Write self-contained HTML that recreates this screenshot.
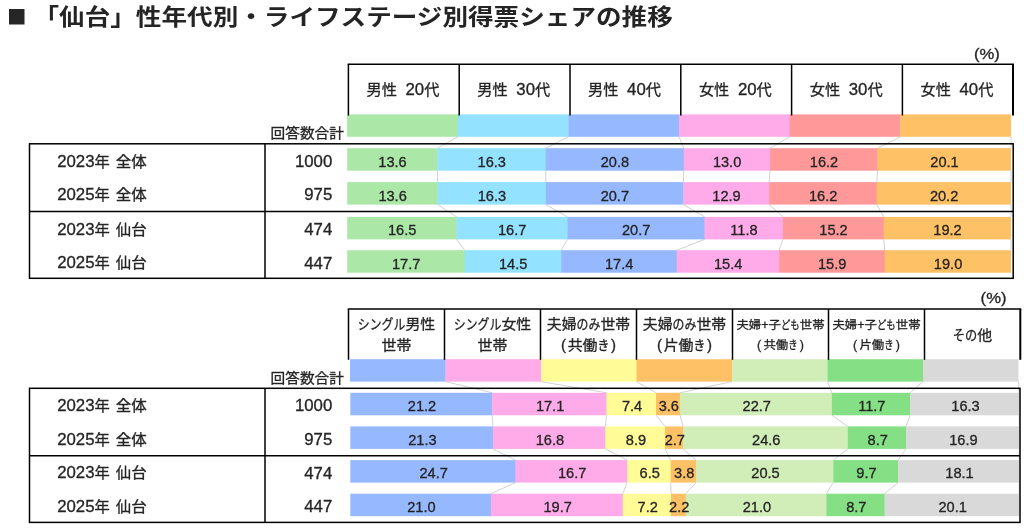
<!DOCTYPE html>
<html lang="ja"><head><meta charset="utf-8"><title>「仙台」性年代別・ライフステージ別得票シェアの推移</title>
<style>
html,body{margin:0;padding:0;background:#fff;}
body{width:1024px;height:529px;overflow:hidden;font-family:'Liberation Sans', 'Noto Sans CJK JP', sans-serif;}
svg{display:block;}
svg text{font-family:'Liberation Sans', 'Noto Sans CJK JP', sans-serif;}
</style></head><body>
<svg width="1024" height="529" viewBox="0 0 1024 529">
<rect x="9.00" y="9.00" width="15.50" height="15.50" fill="#262626"/>
<text transform="translate(33.50,24.90) scale(1.0,0.87)" font-size="25.6" font-weight="bold" fill="#242424" xml:space="preserve">「仙台」性年代別・ライフステージ別得票シェアの推移</text>
<rect x="347.10" y="114.40" width="110.95" height="22.40" fill="#abe8a8"/>
<rect x="457.75" y="114.40" width="110.95" height="22.40" fill="#93e2ff"/>
<rect x="568.40" y="114.40" width="110.95" height="22.40" fill="#96b8ff"/>
<rect x="679.05" y="114.40" width="110.95" height="22.40" fill="#ffabe9"/>
<rect x="789.70" y="114.40" width="110.95" height="22.40" fill="#ff9999"/>
<rect x="900.35" y="114.40" width="110.65" height="22.40" fill="#ffc166"/>
<line x1="457.75" y1="136.80" x2="437.48" y2="148.20" stroke="#c6c6c6" stroke-width="0.8"/>
<line x1="568.40" y1="136.80" x2="545.68" y2="148.20" stroke="#c6c6c6" stroke-width="0.8"/>
<line x1="679.05" y1="136.80" x2="683.75" y2="148.20" stroke="#c6c6c6" stroke-width="0.8"/>
<line x1="789.70" y1="136.80" x2="770.04" y2="148.20" stroke="#c6c6c6" stroke-width="0.8"/>
<line x1="900.35" y1="136.80" x2="877.58" y2="148.20" stroke="#c6c6c6" stroke-width="0.8"/>
<line x1="1011.00" y1="136.80" x2="1011.00" y2="148.20" stroke="#c6c6c6" stroke-width="0.8"/>
<rect x="347.20" y="148.20" width="90.58" height="22.50" fill="#abe8a8"/>
<rect x="437.48" y="148.20" width="108.50" height="22.50" fill="#93e2ff"/>
<rect x="545.68" y="148.20" width="138.37" height="22.50" fill="#96b8ff"/>
<rect x="683.75" y="148.20" width="86.59" height="22.50" fill="#ffabe9"/>
<rect x="770.04" y="148.20" width="107.84" height="22.50" fill="#ff9999"/>
<rect x="877.58" y="148.20" width="133.42" height="22.50" fill="#ffc166"/>
<text transform="translate(378.33,166.50) scale(1.0,1)" font-size="14.6" font-weight="normal" fill="#242424" stroke="#242424" stroke-width="0.3" xml:space="preserve">13.6</text>
<text transform="translate(477.57,166.50) scale(1.0,1)" font-size="14.6" font-weight="normal" fill="#242424" stroke="#242424" stroke-width="0.3" xml:space="preserve">16.3</text>
<text transform="translate(600.70,166.50) scale(1.0,1)" font-size="14.6" font-weight="normal" fill="#242424" stroke="#242424" stroke-width="0.3" xml:space="preserve">20.8</text>
<text transform="translate(712.89,166.50) scale(1.0,1)" font-size="14.6" font-weight="normal" fill="#242424" stroke="#242424" stroke-width="0.3" xml:space="preserve">13.0</text>
<text transform="translate(809.80,166.50) scale(1.0,1)" font-size="14.6" font-weight="normal" fill="#242424" stroke="#242424" stroke-width="0.3" xml:space="preserve">16.2</text>
<text transform="translate(930.28,166.50) scale(1.0,1)" font-size="14.6" font-weight="normal" fill="#242424" stroke="#242424" stroke-width="0.3" xml:space="preserve">20.1</text>
<line x1="437.48" y1="170.70" x2="437.57" y2="182.10" stroke="#c6c6c6" stroke-width="0.8"/>
<line x1="545.68" y1="170.70" x2="545.87" y2="182.10" stroke="#c6c6c6" stroke-width="0.8"/>
<line x1="683.75" y1="170.70" x2="683.42" y2="182.10" stroke="#c6c6c6" stroke-width="0.8"/>
<line x1="770.04" y1="170.70" x2="769.13" y2="182.10" stroke="#c6c6c6" stroke-width="0.8"/>
<line x1="877.58" y1="170.70" x2="876.78" y2="182.10" stroke="#c6c6c6" stroke-width="0.8"/>
<line x1="1011.00" y1="170.70" x2="1011.00" y2="182.10" stroke="#c6c6c6" stroke-width="0.8"/>
<rect x="347.20" y="182.10" width="90.67" height="22.50" fill="#abe8a8"/>
<rect x="437.57" y="182.10" width="108.61" height="22.50" fill="#93e2ff"/>
<rect x="545.87" y="182.10" width="137.84" height="22.50" fill="#96b8ff"/>
<rect x="683.42" y="182.10" width="86.02" height="22.50" fill="#ffabe9"/>
<rect x="769.13" y="182.10" width="107.94" height="22.50" fill="#ff9999"/>
<rect x="876.78" y="182.10" width="134.22" height="22.50" fill="#ffc166"/>
<text transform="translate(378.38,200.50) scale(1.0,1)" font-size="14.6" font-weight="normal" fill="#242424" stroke="#242424" stroke-width="0.3" xml:space="preserve">13.6</text>
<text transform="translate(477.71,200.50) scale(1.0,1)" font-size="14.6" font-weight="normal" fill="#242424" stroke="#242424" stroke-width="0.3" xml:space="preserve">16.3</text>
<text transform="translate(600.64,200.50) scale(1.0,1)" font-size="14.6" font-weight="normal" fill="#242424" stroke="#242424" stroke-width="0.3" xml:space="preserve">20.7</text>
<text transform="translate(712.27,200.50) scale(1.0,1)" font-size="14.6" font-weight="normal" fill="#242424" stroke="#242424" stroke-width="0.3" xml:space="preserve">12.9</text>
<text transform="translate(808.95,200.50) scale(1.0,1)" font-size="14.6" font-weight="normal" fill="#242424" stroke="#242424" stroke-width="0.3" xml:space="preserve">16.2</text>
<text transform="translate(929.88,200.50) scale(1.0,1)" font-size="14.6" font-weight="normal" fill="#242424" stroke="#242424" stroke-width="0.3" xml:space="preserve">20.2</text>
<line x1="437.57" y1="204.60" x2="456.62" y2="216.90" stroke="#c6c6c6" stroke-width="0.8"/>
<line x1="545.87" y1="204.60" x2="567.36" y2="216.90" stroke="#c6c6c6" stroke-width="0.8"/>
<line x1="683.42" y1="204.60" x2="704.63" y2="216.90" stroke="#c6c6c6" stroke-width="0.8"/>
<line x1="769.13" y1="204.60" x2="782.88" y2="216.90" stroke="#c6c6c6" stroke-width="0.8"/>
<line x1="876.78" y1="204.60" x2="883.68" y2="216.90" stroke="#c6c6c6" stroke-width="0.8"/>
<line x1="1011.00" y1="204.60" x2="1011.00" y2="216.90" stroke="#c6c6c6" stroke-width="0.8"/>
<rect x="347.20" y="216.90" width="109.72" height="22.50" fill="#abe8a8"/>
<rect x="456.62" y="216.90" width="111.04" height="22.50" fill="#93e2ff"/>
<rect x="567.36" y="216.90" width="137.57" height="22.50" fill="#96b8ff"/>
<rect x="704.63" y="216.90" width="78.55" height="22.50" fill="#ffabe9"/>
<rect x="782.88" y="216.90" width="101.10" height="22.50" fill="#ff9999"/>
<rect x="883.68" y="216.90" width="127.32" height="22.50" fill="#ffc166"/>
<text transform="translate(387.90,234.90) scale(1.0,1)" font-size="14.6" font-weight="normal" fill="#242424" stroke="#242424" stroke-width="0.3" xml:space="preserve">16.5</text>
<text transform="translate(497.98,234.90) scale(1.0,1)" font-size="14.6" font-weight="normal" fill="#242424" stroke="#242424" stroke-width="0.3" xml:space="preserve">16.7</text>
<text transform="translate(621.99,234.90) scale(1.0,1)" font-size="14.6" font-weight="normal" fill="#242424" stroke="#242424" stroke-width="0.3" xml:space="preserve">20.7</text>
<text transform="translate(730.29,234.90) scale(1.0,1)" font-size="14.6" font-weight="normal" fill="#242424" stroke="#242424" stroke-width="0.3" xml:space="preserve">11.8</text>
<text transform="translate(819.27,234.90) scale(1.0,1)" font-size="14.6" font-weight="normal" fill="#242424" stroke="#242424" stroke-width="0.3" xml:space="preserve">15.2</text>
<text transform="translate(933.33,234.90) scale(1.0,1)" font-size="14.6" font-weight="normal" fill="#242424" stroke="#242424" stroke-width="0.3" xml:space="preserve">19.2</text>
<line x1="456.62" y1="239.40" x2="464.81" y2="250.20" stroke="#c6c6c6" stroke-width="0.8"/>
<line x1="567.36" y1="239.40" x2="561.16" y2="250.20" stroke="#c6c6c6" stroke-width="0.8"/>
<line x1="704.63" y1="239.40" x2="676.77" y2="250.20" stroke="#c6c6c6" stroke-width="0.8"/>
<line x1="782.88" y1="239.40" x2="779.10" y2="250.20" stroke="#c6c6c6" stroke-width="0.8"/>
<line x1="883.68" y1="239.40" x2="884.75" y2="250.20" stroke="#c6c6c6" stroke-width="0.8"/>
<line x1="1011.00" y1="239.40" x2="1011.00" y2="250.20" stroke="#c6c6c6" stroke-width="0.8"/>
<rect x="347.20" y="250.20" width="117.91" height="22.50" fill="#abe8a8"/>
<rect x="464.81" y="250.20" width="96.65" height="22.50" fill="#93e2ff"/>
<rect x="561.16" y="250.20" width="115.92" height="22.50" fill="#96b8ff"/>
<rect x="676.77" y="250.20" width="102.63" height="22.50" fill="#ffabe9"/>
<rect x="779.10" y="250.20" width="105.95" height="22.50" fill="#ff9999"/>
<rect x="884.75" y="250.20" width="126.25" height="22.50" fill="#ffc166"/>
<text transform="translate(392.00,269.20) scale(1.0,1)" font-size="14.6" font-weight="normal" fill="#242424" stroke="#242424" stroke-width="0.3" xml:space="preserve">17.7</text>
<text transform="translate(498.98,269.20) scale(1.0,1)" font-size="14.6" font-weight="normal" fill="#242424" stroke="#242424" stroke-width="0.3" xml:space="preserve">14.5</text>
<text transform="translate(604.96,269.20) scale(1.0,1)" font-size="14.6" font-weight="normal" fill="#242424" stroke="#242424" stroke-width="0.3" xml:space="preserve">17.4</text>
<text transform="translate(713.93,269.20) scale(1.0,1)" font-size="14.6" font-weight="normal" fill="#242424" stroke="#242424" stroke-width="0.3" xml:space="preserve">15.4</text>
<text transform="translate(817.92,269.20) scale(1.0,1)" font-size="14.6" font-weight="normal" fill="#242424" stroke="#242424" stroke-width="0.3" xml:space="preserve">15.9</text>
<text transform="translate(933.87,269.20) scale(1.0,1)" font-size="14.6" font-weight="normal" fill="#242424" stroke="#242424" stroke-width="0.3" xml:space="preserve">19.0</text>
<line x1="347.65" y1="64.30" x2="1013.95" y2="64.30" stroke="#000" stroke-width="1.5"/>
<line x1="348.40" y1="64.30" x2="348.40" y2="115.50" stroke="#000" stroke-width="1.5"/>
<line x1="459.20" y1="64.30" x2="459.20" y2="115.50" stroke="#000" stroke-width="1.5"/>
<line x1="570.00" y1="64.30" x2="570.00" y2="115.50" stroke="#000" stroke-width="1.5"/>
<line x1="680.80" y1="64.30" x2="680.80" y2="115.50" stroke="#000" stroke-width="1.5"/>
<line x1="791.60" y1="64.30" x2="791.60" y2="115.50" stroke="#000" stroke-width="1.5"/>
<line x1="902.40" y1="64.30" x2="902.40" y2="115.50" stroke="#000" stroke-width="1.5"/>
<line x1="1013.00" y1="64.30" x2="1013.00" y2="115.50" stroke="#000" stroke-width="2.0"/>
<text transform="translate(366.50,95.20) scale(1.0,0.95)" font-size="15.2" font-weight="normal" fill="#242424" stroke="#242424" stroke-width="0.3" xml:space="preserve">男性</text>
<g><text transform="translate(405.51,95.20) scale(1.05,1)" font-size="16" font-weight="normal" fill="#242424" stroke="#242424" stroke-width="0.3" xml:space="preserve">20</text><text transform="translate(424.20,95.20) scale(1.0,0.95)" font-size="15.2" font-weight="normal" fill="#242424" stroke="#242424" stroke-width="0.3" xml:space="preserve">代</text></g>
<text transform="translate(477.30,95.20) scale(1.0,0.95)" font-size="15.2" font-weight="normal" fill="#242424" stroke="#242424" stroke-width="0.3" xml:space="preserve">男性</text>
<g><text transform="translate(516.31,95.20) scale(1.05,1)" font-size="16" font-weight="normal" fill="#242424" stroke="#242424" stroke-width="0.3" xml:space="preserve">30</text><text transform="translate(535.00,95.20) scale(1.0,0.95)" font-size="15.2" font-weight="normal" fill="#242424" stroke="#242424" stroke-width="0.3" xml:space="preserve">代</text></g>
<text transform="translate(588.10,95.20) scale(1.0,0.95)" font-size="15.2" font-weight="normal" fill="#242424" stroke="#242424" stroke-width="0.3" xml:space="preserve">男性</text>
<g><text transform="translate(627.11,95.20) scale(1.05,1)" font-size="16" font-weight="normal" fill="#242424" stroke="#242424" stroke-width="0.3" xml:space="preserve">40</text><text transform="translate(645.80,95.20) scale(1.0,0.95)" font-size="15.2" font-weight="normal" fill="#242424" stroke="#242424" stroke-width="0.3" xml:space="preserve">代</text></g>
<text transform="translate(698.90,95.20) scale(1.0,0.95)" font-size="15.2" font-weight="normal" fill="#242424" stroke="#242424" stroke-width="0.3" xml:space="preserve">女性</text>
<g><text transform="translate(737.91,95.20) scale(1.05,1)" font-size="16" font-weight="normal" fill="#242424" stroke="#242424" stroke-width="0.3" xml:space="preserve">20</text><text transform="translate(756.60,95.20) scale(1.0,0.95)" font-size="15.2" font-weight="normal" fill="#242424" stroke="#242424" stroke-width="0.3" xml:space="preserve">代</text></g>
<text transform="translate(809.70,95.20) scale(1.0,0.95)" font-size="15.2" font-weight="normal" fill="#242424" stroke="#242424" stroke-width="0.3" xml:space="preserve">女性</text>
<g><text transform="translate(848.71,95.20) scale(1.05,1)" font-size="16" font-weight="normal" fill="#242424" stroke="#242424" stroke-width="0.3" xml:space="preserve">30</text><text transform="translate(867.40,95.20) scale(1.0,0.95)" font-size="15.2" font-weight="normal" fill="#242424" stroke="#242424" stroke-width="0.3" xml:space="preserve">代</text></g>
<text transform="translate(920.50,95.20) scale(1.0,0.95)" font-size="15.2" font-weight="normal" fill="#242424" stroke="#242424" stroke-width="0.3" xml:space="preserve">女性</text>
<g><text transform="translate(959.51,95.20) scale(1.05,1)" font-size="16" font-weight="normal" fill="#242424" stroke="#242424" stroke-width="0.3" xml:space="preserve">40</text><text transform="translate(978.20,95.20) scale(1.0,0.95)" font-size="15.2" font-weight="normal" fill="#242424" stroke="#242424" stroke-width="0.3" xml:space="preserve">代</text></g>
<rect x="29.5" y="143.8" width="983.7" height="134.5" fill="none" stroke="#000" stroke-width="1.5"/>
<line x1="29.50" y1="211.60" x2="1013.20" y2="211.60" stroke="#000" stroke-width="1.5"/>
<line x1="265.00" y1="143.80" x2="265.00" y2="278.30" stroke="#000" stroke-width="1.5"/>
<text transform="translate(974.00,58.60) scale(1.11,1)" font-size="15" font-weight="normal" fill="#242424" stroke="#242424" stroke-width="0.3" xml:space="preserve">(%)</text>
<text transform="translate(270.50,138.00) scale(1.0,0.95)" font-size="14.7" font-weight="normal" fill="#242424" stroke="#242424" stroke-width="0.3" xml:space="preserve">回答数合計</text>
<g><text transform="translate(57.20,166.50) scale(1.05,1)" font-size="16" font-weight="normal" fill="#242424" stroke="#242424" stroke-width="0.3" xml:space="preserve">2023</text><text transform="translate(94.57,166.50) scale(1.0,0.95)" font-size="15.3" font-weight="normal" fill="#242424" stroke="#242424" stroke-width="0.3" xml:space="preserve">年</text></g>
<text transform="translate(115.80,166.50) scale(1.0,0.95)" font-size="15.5" font-weight="normal" fill="#242424" stroke="#242424" stroke-width="0.3" xml:space="preserve">全体</text>
<text transform="translate(294.93,166.80) scale(1.05,1)" font-size="16" font-weight="normal" fill="#242424" stroke="#242424" stroke-width="0.3" xml:space="preserve">1000</text>
<g><text transform="translate(57.20,200.10) scale(1.05,1)" font-size="16" font-weight="normal" fill="#242424" stroke="#242424" stroke-width="0.3" xml:space="preserve">2025</text><text transform="translate(94.57,200.10) scale(1.0,0.95)" font-size="15.3" font-weight="normal" fill="#242424" stroke="#242424" stroke-width="0.3" xml:space="preserve">年</text></g>
<text transform="translate(115.80,200.10) scale(1.0,0.95)" font-size="15.5" font-weight="normal" fill="#242424" stroke="#242424" stroke-width="0.3" xml:space="preserve">全体</text>
<text transform="translate(304.27,200.40) scale(1.05,1)" font-size="16" font-weight="normal" fill="#242424" stroke="#242424" stroke-width="0.3" xml:space="preserve">975</text>
<g><text transform="translate(57.20,234.50) scale(1.05,1)" font-size="16" font-weight="normal" fill="#242424" stroke="#242424" stroke-width="0.3" xml:space="preserve">2023</text><text transform="translate(94.57,234.50) scale(1.0,0.95)" font-size="15.3" font-weight="normal" fill="#242424" stroke="#242424" stroke-width="0.3" xml:space="preserve">年</text></g>
<text transform="translate(115.80,234.50) scale(1.0,0.95)" font-size="15.5" font-weight="normal" fill="#242424" stroke="#242424" stroke-width="0.3" xml:space="preserve">仙台</text>
<text transform="translate(304.27,234.80) scale(1.05,1)" font-size="16" font-weight="normal" fill="#242424" stroke="#242424" stroke-width="0.3" xml:space="preserve">474</text>
<g><text transform="translate(57.20,268.30) scale(1.05,1)" font-size="16" font-weight="normal" fill="#242424" stroke="#242424" stroke-width="0.3" xml:space="preserve">2025</text><text transform="translate(94.57,268.30) scale(1.0,0.95)" font-size="15.3" font-weight="normal" fill="#242424" stroke="#242424" stroke-width="0.3" xml:space="preserve">年</text></g>
<text transform="translate(115.80,268.30) scale(1.0,0.95)" font-size="15.5" font-weight="normal" fill="#242424" stroke="#242424" stroke-width="0.3" xml:space="preserve">仙台</text>
<text transform="translate(304.27,268.60) scale(1.05,1)" font-size="16" font-weight="normal" fill="#242424" stroke="#242424" stroke-width="0.3" xml:space="preserve">447</text>
<rect x="350.00" y="359.20" width="95.80" height="22.40" fill="#96b8ff"/>
<rect x="445.50" y="359.20" width="95.80" height="22.40" fill="#ffabe9"/>
<rect x="541.00" y="359.20" width="95.80" height="22.40" fill="#fffc97"/>
<rect x="636.50" y="359.20" width="95.80" height="22.40" fill="#ffc166"/>
<rect x="732.00" y="359.20" width="95.80" height="22.40" fill="#d1edb8"/>
<rect x="827.50" y="359.20" width="95.80" height="22.40" fill="#85e085"/>
<rect x="923.00" y="359.20" width="95.50" height="22.40" fill="#d9d9d9"/>
<line x1="445.50" y1="381.60" x2="492.11" y2="392.80" stroke="#c6c6c6" stroke-width="0.8"/>
<line x1="541.00" y1="381.60" x2="606.49" y2="392.80" stroke="#c6c6c6" stroke-width="0.8"/>
<line x1="636.50" y1="381.60" x2="655.99" y2="392.80" stroke="#c6c6c6" stroke-width="0.8"/>
<line x1="732.00" y1="381.60" x2="680.07" y2="392.80" stroke="#c6c6c6" stroke-width="0.8"/>
<line x1="827.50" y1="381.60" x2="831.91" y2="392.80" stroke="#c6c6c6" stroke-width="0.8"/>
<line x1="923.00" y1="381.60" x2="910.17" y2="392.80" stroke="#c6c6c6" stroke-width="0.8"/>
<line x1="1018.50" y1="381.60" x2="1019.20" y2="392.80" stroke="#c6c6c6" stroke-width="0.8"/>
<rect x="350.30" y="392.80" width="142.11" height="22.50" fill="#96b8ff"/>
<rect x="492.11" y="392.80" width="114.68" height="22.50" fill="#ffabe9"/>
<rect x="606.49" y="392.80" width="49.80" height="22.50" fill="#fffc97"/>
<rect x="655.99" y="392.80" width="24.38" height="22.50" fill="#ffc166"/>
<rect x="680.07" y="392.80" width="152.14" height="22.50" fill="#d1edb8"/>
<rect x="831.91" y="392.80" width="78.56" height="22.50" fill="#85e085"/>
<rect x="910.17" y="392.80" width="109.03" height="22.50" fill="#d9d9d9"/>
<text transform="translate(407.80,410.70) scale(1.0,1)" font-size="14.6" font-weight="normal" fill="#242424" stroke="#242424" stroke-width="0.3" xml:space="preserve">21.2</text>
<text transform="translate(535.89,410.70) scale(1.0,1)" font-size="14.6" font-weight="normal" fill="#242424" stroke="#242424" stroke-width="0.3" xml:space="preserve">17.1</text>
<text transform="translate(621.89,410.70) scale(1.0,1)" font-size="14.6" font-weight="normal" fill="#242424" stroke="#242424" stroke-width="0.3" xml:space="preserve">7.4</text>
<text transform="translate(658.68,410.70) scale(1.0,1)" font-size="14.6" font-weight="normal" fill="#242424" stroke="#242424" stroke-width="0.3" xml:space="preserve">3.6</text>
<text transform="translate(742.58,410.70) scale(1.0,1)" font-size="14.6" font-weight="normal" fill="#242424" stroke="#242424" stroke-width="0.3" xml:space="preserve">22.7</text>
<text transform="translate(858.17,410.70) scale(1.0,1)" font-size="14.6" font-weight="normal" fill="#242424" stroke="#242424" stroke-width="0.3" xml:space="preserve">11.7</text>
<text transform="translate(951.28,410.70) scale(1.0,1)" font-size="14.6" font-weight="normal" fill="#242424" stroke="#242424" stroke-width="0.3" xml:space="preserve">16.3</text>
<line x1="492.11" y1="415.30" x2="492.92" y2="426.40" stroke="#c6c6c6" stroke-width="0.8"/>
<line x1="606.49" y1="415.30" x2="605.41" y2="426.40" stroke="#c6c6c6" stroke-width="0.8"/>
<line x1="655.99" y1="415.30" x2="665.00" y2="426.40" stroke="#c6c6c6" stroke-width="0.8"/>
<line x1="680.07" y1="415.30" x2="683.08" y2="426.40" stroke="#c6c6c6" stroke-width="0.8"/>
<line x1="831.91" y1="415.30" x2="847.79" y2="426.40" stroke="#c6c6c6" stroke-width="0.8"/>
<line x1="910.17" y1="415.30" x2="906.04" y2="426.40" stroke="#c6c6c6" stroke-width="0.8"/>
<line x1="1019.20" y1="415.30" x2="1019.20" y2="426.40" stroke="#c6c6c6" stroke-width="0.8"/>
<rect x="350.30" y="426.40" width="142.92" height="22.50" fill="#96b8ff"/>
<rect x="492.92" y="426.40" width="112.79" height="22.50" fill="#ffabe9"/>
<rect x="605.41" y="426.40" width="59.89" height="22.50" fill="#fffc97"/>
<rect x="665.00" y="426.40" width="18.38" height="22.50" fill="#ffc166"/>
<rect x="683.08" y="426.40" width="165.01" height="22.50" fill="#d1edb8"/>
<rect x="847.79" y="426.40" width="58.55" height="22.50" fill="#85e085"/>
<rect x="906.04" y="426.40" width="113.16" height="22.50" fill="#d9d9d9"/>
<text transform="translate(408.20,444.70) scale(1.0,1)" font-size="14.6" font-weight="normal" fill="#242424" stroke="#242424" stroke-width="0.3" xml:space="preserve">21.3</text>
<text transform="translate(535.75,444.70) scale(1.0,1)" font-size="14.6" font-weight="normal" fill="#242424" stroke="#242424" stroke-width="0.3" xml:space="preserve">16.8</text>
<text transform="translate(625.85,444.70) scale(1.0,1)" font-size="14.6" font-weight="normal" fill="#242424" stroke="#242424" stroke-width="0.3" xml:space="preserve">8.9</text>
<text transform="translate(664.69,444.70) scale(1.0,1)" font-size="14.6" font-weight="normal" fill="#242424" stroke="#242424" stroke-width="0.3" xml:space="preserve">2.7</text>
<text transform="translate(752.03,444.70) scale(1.0,1)" font-size="14.6" font-weight="normal" fill="#242424" stroke="#242424" stroke-width="0.3" xml:space="preserve">24.6</text>
<text transform="translate(867.57,444.70) scale(1.0,1)" font-size="14.6" font-weight="normal" fill="#242424" stroke="#242424" stroke-width="0.3" xml:space="preserve">8.7</text>
<text transform="translate(949.21,444.70) scale(1.0,1)" font-size="14.6" font-weight="normal" fill="#242424" stroke="#242424" stroke-width="0.3" xml:space="preserve">16.9</text>
<line x1="492.92" y1="448.90" x2="515.52" y2="460.10" stroke="#c6c6c6" stroke-width="0.8"/>
<line x1="605.41" y1="448.90" x2="627.22" y2="460.10" stroke="#c6c6c6" stroke-width="0.8"/>
<line x1="665.00" y1="448.90" x2="670.70" y2="460.10" stroke="#c6c6c6" stroke-width="0.8"/>
<line x1="683.08" y1="448.90" x2="696.12" y2="460.10" stroke="#c6c6c6" stroke-width="0.8"/>
<line x1="847.79" y1="448.90" x2="833.25" y2="460.10" stroke="#c6c6c6" stroke-width="0.8"/>
<line x1="906.04" y1="448.90" x2="898.13" y2="460.10" stroke="#c6c6c6" stroke-width="0.8"/>
<line x1="1019.20" y1="448.90" x2="1019.20" y2="460.10" stroke="#c6c6c6" stroke-width="0.8"/>
<rect x="350.30" y="460.10" width="165.52" height="22.50" fill="#96b8ff"/>
<rect x="515.52" y="460.10" width="112.01" height="22.50" fill="#ffabe9"/>
<rect x="627.22" y="460.10" width="43.78" height="22.50" fill="#fffc97"/>
<rect x="670.70" y="460.10" width="25.72" height="22.50" fill="#ffc166"/>
<rect x="696.12" y="460.10" width="137.42" height="22.50" fill="#d1edb8"/>
<rect x="833.25" y="460.10" width="65.18" height="22.50" fill="#85e085"/>
<rect x="898.13" y="460.10" width="121.07" height="22.50" fill="#d9d9d9"/>
<text transform="translate(419.50,478.40) scale(1.0,1)" font-size="14.6" font-weight="normal" fill="#242424" stroke="#242424" stroke-width="0.3" xml:space="preserve">24.7</text>
<text transform="translate(557.96,478.40) scale(1.0,1)" font-size="14.6" font-weight="normal" fill="#242424" stroke="#242424" stroke-width="0.3" xml:space="preserve">16.7</text>
<text transform="translate(639.62,478.40) scale(1.0,1)" font-size="14.6" font-weight="normal" fill="#242424" stroke="#242424" stroke-width="0.3" xml:space="preserve">6.5</text>
<text transform="translate(674.06,478.40) scale(1.0,1)" font-size="14.6" font-weight="normal" fill="#242424" stroke="#242424" stroke-width="0.3" xml:space="preserve">3.8</text>
<text transform="translate(751.28,478.40) scale(1.0,1)" font-size="14.6" font-weight="normal" fill="#242424" stroke="#242424" stroke-width="0.3" xml:space="preserve">20.5</text>
<text transform="translate(856.34,478.40) scale(1.0,1)" font-size="14.6" font-weight="normal" fill="#242424" stroke="#242424" stroke-width="0.3" xml:space="preserve">9.7</text>
<text transform="translate(945.26,478.40) scale(1.0,1)" font-size="14.6" font-weight="normal" fill="#242424" stroke="#242424" stroke-width="0.3" xml:space="preserve">18.1</text>
<line x1="515.52" y1="482.60" x2="490.91" y2="493.70" stroke="#c6c6c6" stroke-width="0.8"/>
<line x1="627.22" y1="482.60" x2="622.81" y2="493.70" stroke="#c6c6c6" stroke-width="0.8"/>
<line x1="670.70" y1="482.60" x2="671.02" y2="493.70" stroke="#c6c6c6" stroke-width="0.8"/>
<line x1="696.12" y1="482.60" x2="685.75" y2="493.70" stroke="#c6c6c6" stroke-width="0.8"/>
<line x1="833.25" y1="482.60" x2="826.36" y2="493.70" stroke="#c6c6c6" stroke-width="0.8"/>
<line x1="898.13" y1="482.60" x2="884.62" y2="493.70" stroke="#c6c6c6" stroke-width="0.8"/>
<line x1="1019.20" y1="482.60" x2="1019.20" y2="493.70" stroke="#c6c6c6" stroke-width="0.8"/>
<rect x="350.30" y="493.70" width="140.91" height="22.50" fill="#96b8ff"/>
<rect x="490.91" y="493.70" width="132.21" height="22.50" fill="#ffabe9"/>
<rect x="622.81" y="493.70" width="48.51" height="22.50" fill="#fffc97"/>
<rect x="671.02" y="493.70" width="15.03" height="22.50" fill="#ffc166"/>
<rect x="685.75" y="493.70" width="140.91" height="22.50" fill="#d1edb8"/>
<rect x="826.36" y="493.70" width="58.55" height="22.50" fill="#85e085"/>
<rect x="884.62" y="493.70" width="134.58" height="22.50" fill="#d9d9d9"/>
<text transform="translate(407.20,512.20) scale(1.0,1)" font-size="14.6" font-weight="normal" fill="#242424" stroke="#242424" stroke-width="0.3" xml:space="preserve">21.0</text>
<text transform="translate(543.45,512.20) scale(1.0,1)" font-size="14.6" font-weight="normal" fill="#242424" stroke="#242424" stroke-width="0.3" xml:space="preserve">19.7</text>
<text transform="translate(637.57,512.20) scale(1.0,1)" font-size="14.6" font-weight="normal" fill="#242424" stroke="#242424" stroke-width="0.3" xml:space="preserve">7.2</text>
<text transform="translate(669.04,512.20) scale(1.0,1)" font-size="14.6" font-weight="normal" fill="#242424" stroke="#242424" stroke-width="0.3" xml:space="preserve">2.2</text>
<text transform="translate(742.65,512.20) scale(1.0,1)" font-size="14.6" font-weight="normal" fill="#242424" stroke="#242424" stroke-width="0.3" xml:space="preserve">21.0</text>
<text transform="translate(846.14,512.20) scale(1.0,1)" font-size="14.6" font-weight="normal" fill="#242424" stroke="#242424" stroke-width="0.3" xml:space="preserve">8.7</text>
<text transform="translate(938.50,512.20) scale(1.0,1)" font-size="14.6" font-weight="normal" fill="#242424" stroke="#242424" stroke-width="0.3" xml:space="preserve">20.1</text>
<line x1="347.75" y1="309.00" x2="1021.25" y2="309.00" stroke="#000" stroke-width="1.5"/>
<line x1="348.50" y1="309.00" x2="348.50" y2="359.80" stroke="#000" stroke-width="1.5"/>
<line x1="444.50" y1="309.00" x2="444.50" y2="359.80" stroke="#000" stroke-width="1.5"/>
<line x1="540.50" y1="309.00" x2="540.50" y2="359.80" stroke="#000" stroke-width="1.5"/>
<line x1="636.50" y1="309.00" x2="636.50" y2="359.80" stroke="#000" stroke-width="1.5"/>
<line x1="732.50" y1="309.00" x2="732.50" y2="359.80" stroke="#000" stroke-width="1.5"/>
<line x1="828.50" y1="309.00" x2="828.50" y2="359.80" stroke="#000" stroke-width="1.5"/>
<line x1="924.50" y1="309.00" x2="924.50" y2="359.80" stroke="#000" stroke-width="1.5"/>
<line x1="1020.30" y1="309.00" x2="1020.30" y2="359.80" stroke="#000" stroke-width="2.0"/>
<g><text transform="translate(357.76,328.70) scale(0.8,0.95)" font-size="14.9" font-weight="normal" fill="#242424" stroke="#242424" stroke-width="0.3" xml:space="preserve">シングル</text><text transform="translate(405.44,328.70) scale(1.0,0.95)" font-size="14.9" font-weight="normal" fill="#242424" stroke="#242424" stroke-width="0.3" xml:space="preserve">男性</text></g>
<text transform="translate(381.60,350.20) scale(1.0,0.95)" font-size="14.9" font-weight="normal" fill="#242424" stroke="#242424" stroke-width="0.3" xml:space="preserve">世帯</text>
<g><text transform="translate(453.76,328.70) scale(0.8,0.95)" font-size="14.9" font-weight="normal" fill="#242424" stroke="#242424" stroke-width="0.3" xml:space="preserve">シングル</text><text transform="translate(501.44,328.70) scale(1.0,0.95)" font-size="14.9" font-weight="normal" fill="#242424" stroke="#242424" stroke-width="0.3" xml:space="preserve">女性</text></g>
<text transform="translate(477.60,350.20) scale(1.0,0.95)" font-size="14.9" font-weight="normal" fill="#242424" stroke="#242424" stroke-width="0.3" xml:space="preserve">世帯</text>
<g><text transform="translate(546.78,328.70) scale(1.0,0.95)" font-size="14.9" font-weight="normal" fill="#242424" stroke="#242424" stroke-width="0.3" xml:space="preserve">夫婦</text><text transform="translate(576.58,328.70) scale(0.8,0.95)" font-size="14.9" font-weight="normal" fill="#242424" stroke="#242424" stroke-width="0.3" xml:space="preserve">のみ</text><text transform="translate(600.42,328.70) scale(1.0,0.95)" font-size="14.9" font-weight="normal" fill="#242424" stroke="#242424" stroke-width="0.3" xml:space="preserve">世帯</text></g>
<g><text transform="translate(560.94,350.20) scale(1.0,1)" font-size="15" font-weight="normal" fill="#242424" stroke="#242424" stroke-width="0.3" xml:space="preserve">(</text><text transform="translate(567.64,350.20) scale(1.0,0.95)" font-size="14.9" font-weight="normal" fill="#242424" stroke="#242424" stroke-width="0.3" xml:space="preserve">共働</text><text transform="translate(597.44,350.20) scale(0.8,0.95)" font-size="14.9" font-weight="normal" fill="#242424" stroke="#242424" stroke-width="0.3" xml:space="preserve">き</text><text transform="translate(611.06,350.20) scale(1.0,1)" font-size="15" font-weight="normal" fill="#242424" stroke="#242424" stroke-width="0.3" xml:space="preserve">)</text></g>
<g><text transform="translate(642.78,328.70) scale(1.0,0.95)" font-size="14.9" font-weight="normal" fill="#242424" stroke="#242424" stroke-width="0.3" xml:space="preserve">夫婦</text><text transform="translate(672.58,328.70) scale(0.8,0.95)" font-size="14.9" font-weight="normal" fill="#242424" stroke="#242424" stroke-width="0.3" xml:space="preserve">のみ</text><text transform="translate(696.42,328.70) scale(1.0,0.95)" font-size="14.9" font-weight="normal" fill="#242424" stroke="#242424" stroke-width="0.3" xml:space="preserve">世帯</text></g>
<g><text transform="translate(656.94,350.20) scale(1.0,1)" font-size="15" font-weight="normal" fill="#242424" stroke="#242424" stroke-width="0.3" xml:space="preserve">(</text><text transform="translate(663.64,350.20) scale(1.0,0.95)" font-size="14.9" font-weight="normal" fill="#242424" stroke="#242424" stroke-width="0.3" xml:space="preserve">片働</text><text transform="translate(693.44,350.20) scale(0.8,0.95)" font-size="14.9" font-weight="normal" fill="#242424" stroke="#242424" stroke-width="0.3" xml:space="preserve">き</text><text transform="translate(707.06,350.20) scale(1.0,1)" font-size="15" font-weight="normal" fill="#242424" stroke="#242424" stroke-width="0.3" xml:space="preserve">)</text></g>
<g><text transform="translate(736.43,329.00) scale(1.0,0.95)" font-size="12.4" font-weight="normal" fill="#242424" stroke="#242424" stroke-width="0.3" xml:space="preserve">夫婦</text><text transform="translate(761.23,329.00) scale(1.0,1)" font-size="12.5" font-weight="normal" fill="#242424" stroke="#242424" stroke-width="0.3" xml:space="preserve">+</text><text transform="translate(768.53,329.00) scale(1.0,0.95)" font-size="12.4" font-weight="normal" fill="#242424" stroke="#242424" stroke-width="0.3" xml:space="preserve">子</text><text transform="translate(780.93,329.00) scale(0.76,0.95)" font-size="12.4" font-weight="normal" fill="#242424" stroke="#242424" stroke-width="0.3" xml:space="preserve">ども</text><text transform="translate(799.77,329.00) scale(1.0,0.95)" font-size="12.4" font-weight="normal" fill="#242424" stroke="#242424" stroke-width="0.3" xml:space="preserve">世帯</text></g>
<g><text transform="translate(757.03,349.00) scale(1.0,1)" font-size="12.5" font-weight="normal" fill="#242424" stroke="#242424" stroke-width="0.3" xml:space="preserve">(</text><text transform="translate(763.39,349.00) scale(1.0,0.95)" font-size="12.4" font-weight="normal" fill="#242424" stroke="#242424" stroke-width="0.3" xml:space="preserve">共働</text><text transform="translate(788.19,349.00) scale(0.76,0.95)" font-size="12.4" font-weight="normal" fill="#242424" stroke="#242424" stroke-width="0.3" xml:space="preserve">き</text><text transform="translate(799.81,349.00) scale(1.0,1)" font-size="12.5" font-weight="normal" fill="#242424" stroke="#242424" stroke-width="0.3" xml:space="preserve">)</text></g>
<g><text transform="translate(832.43,329.00) scale(1.0,0.95)" font-size="12.4" font-weight="normal" fill="#242424" stroke="#242424" stroke-width="0.3" xml:space="preserve">夫婦</text><text transform="translate(857.23,329.00) scale(1.0,1)" font-size="12.5" font-weight="normal" fill="#242424" stroke="#242424" stroke-width="0.3" xml:space="preserve">+</text><text transform="translate(864.53,329.00) scale(1.0,0.95)" font-size="12.4" font-weight="normal" fill="#242424" stroke="#242424" stroke-width="0.3" xml:space="preserve">子</text><text transform="translate(876.93,329.00) scale(0.76,0.95)" font-size="12.4" font-weight="normal" fill="#242424" stroke="#242424" stroke-width="0.3" xml:space="preserve">ども</text><text transform="translate(895.77,329.00) scale(1.0,0.95)" font-size="12.4" font-weight="normal" fill="#242424" stroke="#242424" stroke-width="0.3" xml:space="preserve">世帯</text></g>
<g><text transform="translate(853.03,349.00) scale(1.0,1)" font-size="12.5" font-weight="normal" fill="#242424" stroke="#242424" stroke-width="0.3" xml:space="preserve">(</text><text transform="translate(859.39,349.00) scale(1.0,0.95)" font-size="12.4" font-weight="normal" fill="#242424" stroke="#242424" stroke-width="0.3" xml:space="preserve">片働</text><text transform="translate(884.19,349.00) scale(0.76,0.95)" font-size="12.4" font-weight="normal" fill="#242424" stroke="#242424" stroke-width="0.3" xml:space="preserve">き</text><text transform="translate(895.81,349.00) scale(1.0,1)" font-size="12.5" font-weight="normal" fill="#242424" stroke="#242424" stroke-width="0.3" xml:space="preserve">)</text></g>
<g><text transform="translate(952.83,340.20) scale(0.82,0.95)" font-size="14.9" font-weight="normal" fill="#242424" stroke="#242424" stroke-width="0.3" xml:space="preserve">その</text><text transform="translate(977.27,340.20) scale(1.0,0.95)" font-size="14.9" font-weight="normal" fill="#242424" stroke="#242424" stroke-width="0.3" xml:space="preserve">他</text></g>
<rect x="29.5" y="388.3" width="990.5" height="134.09999999999997" fill="none" stroke="#000" stroke-width="1.5"/>
<line x1="29.50" y1="455.80" x2="1020.00" y2="455.80" stroke="#000" stroke-width="1.5"/>
<line x1="265.00" y1="388.30" x2="265.00" y2="522.40" stroke="#000" stroke-width="1.5"/>
<text transform="translate(980.60,302.80) scale(1.11,1)" font-size="15" font-weight="normal" fill="#242424" stroke="#242424" stroke-width="0.3" xml:space="preserve">(%)</text>
<text transform="translate(270.50,382.60) scale(1.0,0.95)" font-size="14.7" font-weight="normal" fill="#242424" stroke="#242424" stroke-width="0.3" xml:space="preserve">回答数合計</text>
<g><text transform="translate(57.20,410.80) scale(1.05,1)" font-size="16" font-weight="normal" fill="#242424" stroke="#242424" stroke-width="0.3" xml:space="preserve">2023</text><text transform="translate(94.57,410.80) scale(1.0,0.95)" font-size="15.3" font-weight="normal" fill="#242424" stroke="#242424" stroke-width="0.3" xml:space="preserve">年</text></g>
<text transform="translate(115.80,410.80) scale(1.0,0.95)" font-size="15.5" font-weight="normal" fill="#242424" stroke="#242424" stroke-width="0.3" xml:space="preserve">全体</text>
<text transform="translate(294.93,411.10) scale(1.05,1)" font-size="16" font-weight="normal" fill="#242424" stroke="#242424" stroke-width="0.3" xml:space="preserve">1000</text>
<g><text transform="translate(57.20,444.50) scale(1.05,1)" font-size="16" font-weight="normal" fill="#242424" stroke="#242424" stroke-width="0.3" xml:space="preserve">2025</text><text transform="translate(94.57,444.50) scale(1.0,0.95)" font-size="15.3" font-weight="normal" fill="#242424" stroke="#242424" stroke-width="0.3" xml:space="preserve">年</text></g>
<text transform="translate(115.80,444.50) scale(1.0,0.95)" font-size="15.5" font-weight="normal" fill="#242424" stroke="#242424" stroke-width="0.3" xml:space="preserve">全体</text>
<text transform="translate(304.27,444.80) scale(1.05,1)" font-size="16" font-weight="normal" fill="#242424" stroke="#242424" stroke-width="0.3" xml:space="preserve">975</text>
<g><text transform="translate(57.20,478.30) scale(1.05,1)" font-size="16" font-weight="normal" fill="#242424" stroke="#242424" stroke-width="0.3" xml:space="preserve">2023</text><text transform="translate(94.57,478.30) scale(1.0,0.95)" font-size="15.3" font-weight="normal" fill="#242424" stroke="#242424" stroke-width="0.3" xml:space="preserve">年</text></g>
<text transform="translate(115.80,478.30) scale(1.0,0.95)" font-size="15.5" font-weight="normal" fill="#242424" stroke="#242424" stroke-width="0.3" xml:space="preserve">仙台</text>
<text transform="translate(304.27,478.60) scale(1.05,1)" font-size="16" font-weight="normal" fill="#242424" stroke="#242424" stroke-width="0.3" xml:space="preserve">474</text>
<g><text transform="translate(57.20,512.00) scale(1.05,1)" font-size="16" font-weight="normal" fill="#242424" stroke="#242424" stroke-width="0.3" xml:space="preserve">2025</text><text transform="translate(94.57,512.00) scale(1.0,0.95)" font-size="15.3" font-weight="normal" fill="#242424" stroke="#242424" stroke-width="0.3" xml:space="preserve">年</text></g>
<text transform="translate(115.80,512.00) scale(1.0,0.95)" font-size="15.5" font-weight="normal" fill="#242424" stroke="#242424" stroke-width="0.3" xml:space="preserve">仙台</text>
<text transform="translate(304.27,512.30) scale(1.05,1)" font-size="16" font-weight="normal" fill="#242424" stroke="#242424" stroke-width="0.3" xml:space="preserve">447</text>
</svg>
</body></html>
